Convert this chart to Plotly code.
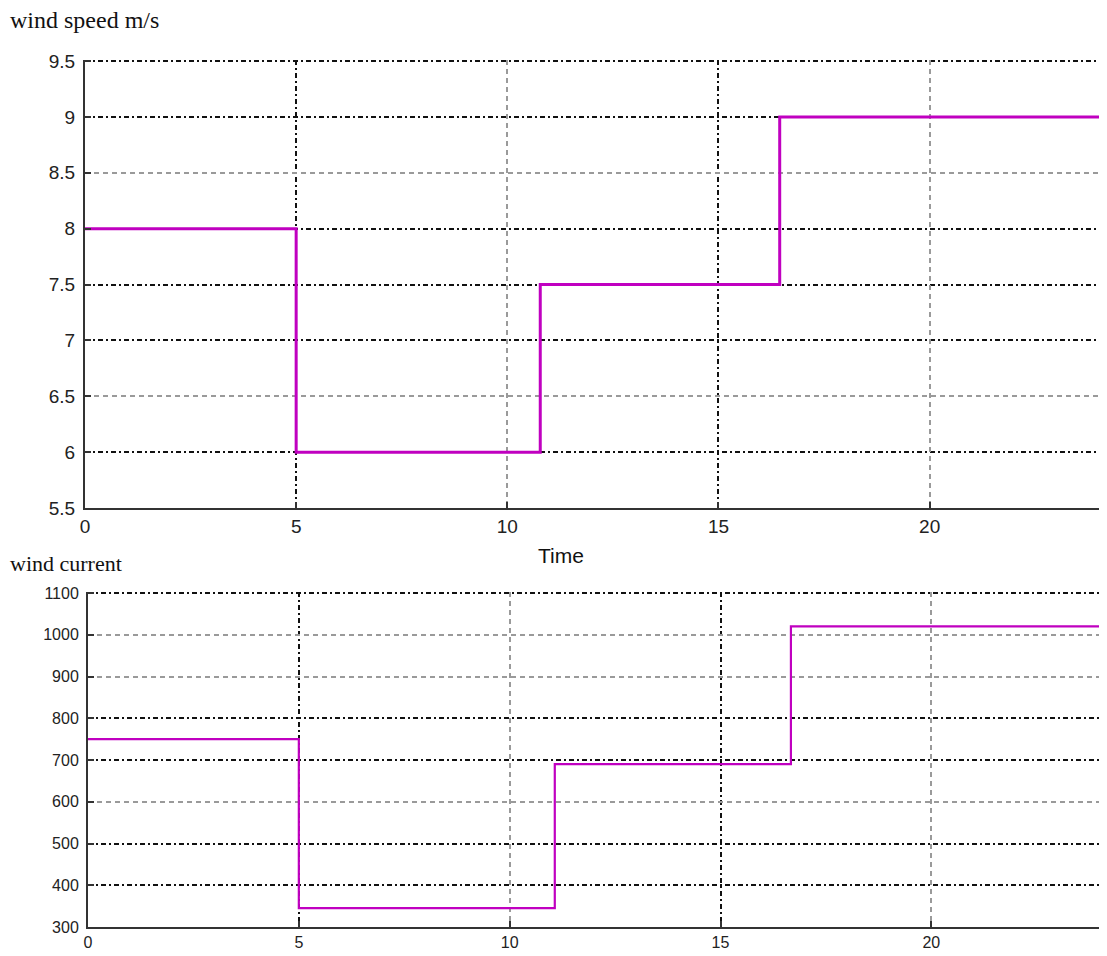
import plotly.graph_objects as go

# ---- data ----
speed_t = [0, 5, 10.78, 16.45, 24.2]
speed_v = [8, 6, 7.5, 9, 9]
current_t = [0, 5, 11.07, 16.67, 24.0]
current_v = [750, 345, 690, 1020, 1020]

x_ticks = [0, 5, 10, 15, 20]
speed_ticks = [5.5, 6, 6.5, 7, 7.5, 8, 8.5, 9, 9.5]
current_ticks = [300, 400, 500, 600, 700, 800, 900, 1000, 1100]

x_grid_dark = [5, 15]
x_grid_light = [10, 20]
speed_grid_dark = [6, 7, 7.5, 8, 9, 9.5]
speed_grid_light = [6.5, 8.5]
current_grid_dark = [400, 500, 700, 800, 1100]
current_grid_light = [600, 900, 1000]

# figure sits 8px inside the page (body margin)
W, H = 1099, 948
LINE = "#C000C0"
DARK = "#111111"
LIGHT = "#9a9a9a"

PAD = 1.5  # px of headroom so the top gridline is kept
top_x = [77 / W, 1.0]
bot_x = [80 / W, 1092 / W]
top_y = [1 - 500 / H, 1 - (53 - PAD) / H]
bot_y = [1 - 919 / H, 1 - (585 - PAD) / H]

xr_top = [0, 24.2]
yr_top = [5.5, 9.5 + PAD * 4.0 / 447]
xr_bot = [0, 24.0]
yr_bot = [300, 1100 + PAD * 800.0 / 334]

fig = go.Figure()
fig.add_trace(go.Scatter(x=speed_t, y=speed_v, mode="lines", line=dict(color=LINE, width=3, shape="hv"),
                         xaxis="x", yaxis="y", showlegend=False))
fig.add_trace(go.Scatter(x=current_t, y=current_v, mode="lines", line=dict(color=LINE, width=2.2, shape="hv"),
                         xaxis="x2", yaxis="y2", showlegend=False))
for xa, ya in [("x3", "y3"), ("x4", "y4"), ("x5", "y5"), ("x6", "y6")]:
    fig.add_trace(go.Scatter(x=[], y=[], xaxis=xa, yaxis=ya, showlegend=False))

tick_font_top = dict(family="Liberation Sans, Arial", size=19, color="#222")
tick_font_bot = dict(family="Liberation Sans, Arial", size=16, color="#222")

def main_axis(domain, rng, vals, font, standoff):
    return dict(domain=domain, range=rng, tickvals=vals, showgrid=False, zeroline=False,
                showline=True, linecolor="#333", linewidth=2, ticks="inside", ticklen=6,
                tickcolor="#333", tickwidth=1.5, tickfont=font, automargin=False, fixedrange=True,
                ticklabelstandoff=standoff)

def grid_axis(domain, rng, vals, color, overlay, anchor, dash):
    return dict(domain=domain, range=rng, tickvals=vals, showgrid=True, gridcolor=color,
                gridwidth=1.5, griddash=dash, showticklabels=False, ticks="", zeroline=False,
                showline=False, overlaying=overlay, anchor=anchor, automargin=False, fixedrange=True)

DD = "5px,3px,2px,3px"
LD = "5px,4px"

fig.update_layout(
    width=W, height=H,
    margin=dict(l=0, r=0, t=0, b=0),
    paper_bgcolor="white", plot_bgcolor="white",
    xaxis=dict(**main_axis(top_x, xr_top, x_ticks, tick_font_top, 0), anchor="y"),
    yaxis=dict(**main_axis(top_y, yr_top, speed_ticks, tick_font_top, 4), anchor="x"),
    xaxis2=dict(**main_axis(bot_x, xr_bot, x_ticks, tick_font_bot, 0), anchor="y2"),
    yaxis2=dict(**main_axis(bot_y, yr_bot, current_ticks, tick_font_bot, 4), anchor="x2"),
    xaxis3=grid_axis(top_x, xr_top, x_grid_dark, DARK, "x", "y3", DD),
    yaxis3=grid_axis(top_y, yr_top, speed_grid_dark, DARK, "y", "x3", DD),
    xaxis4=grid_axis(top_x, xr_top, x_grid_light, LIGHT, "x", "y4", LD),
    yaxis4=grid_axis(top_y, yr_top, speed_grid_light, LIGHT, "y", "x4", LD),
    xaxis5=grid_axis(bot_x, xr_bot, x_grid_dark, DARK, "x2", "y5", DD),
    yaxis5=grid_axis(bot_y, yr_bot, current_grid_dark, DARK, "y2", "x5", DD),
    xaxis6=grid_axis(bot_x, xr_bot, x_grid_light, LIGHT, "x2", "y6", LD),
    yaxis6=grid_axis(bot_y, yr_bot, current_grid_light, LIGHT, "y2", "x6", LD),
    annotations=[
        dict(text="wind speed m/s", x=0, y=1 - 12 / H, xref="paper", yref="paper",
             xanchor="left", yanchor="middle", showarrow=False,
             font=dict(family="Liberation Serif, Times New Roman", size=24, color="#111")),
        dict(text="wind current", x=0, y=1 - 555 / H, xref="paper", yref="paper",
             xanchor="left", yanchor="middle", showarrow=False,
             font=dict(family="Liberation Serif, Times New Roman", size=22, color="#111")),
        dict(text="Time", x=553 / W, y=1 - 547 / H, xref="paper", yref="paper",
             xanchor="center", yanchor="middle", showarrow=False,
             font=dict(family="Liberation Sans, Arial", size=21, color="#111")),
    ],
)

fig.write_html("out.html")
